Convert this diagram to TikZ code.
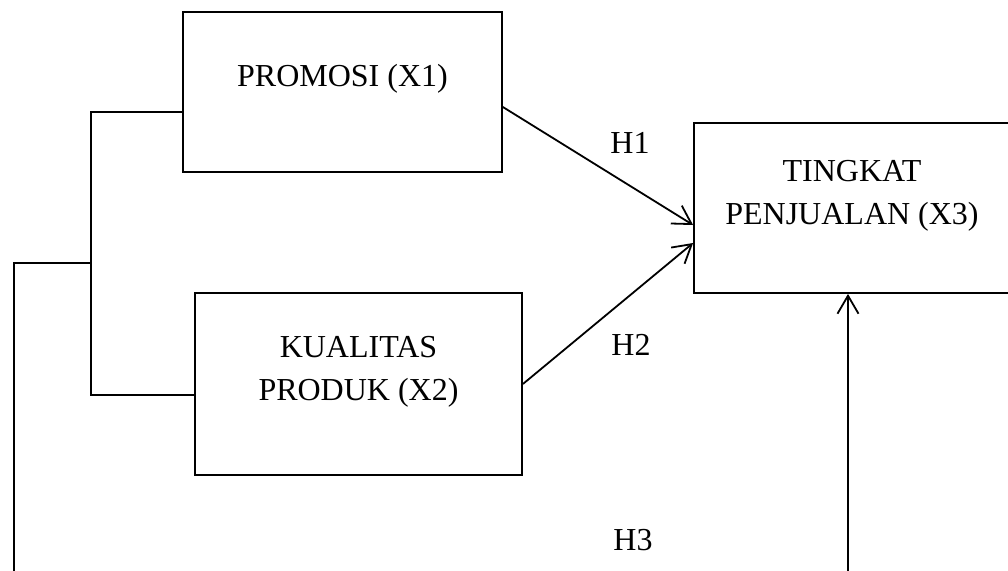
\documentclass[tikz,border=0pt]{standalone}
\usepackage{fontspec}
\setmainfont{Liberation Serif}
\usetikzlibrary{arrows.meta,calc}
\begin{document}
\begin{tikzpicture}[x=0.5pt,y=-0.5pt,
  every node/.style={font=\fontsize{16}{21.5}\selectfont},
  box/.style={draw,line width=0.9pt,rectangle,inner sep=0pt},
  lbl/.style={inner sep=0pt,align=center},
  conn/.style={line width=0.9pt},
  arr/.style={line width=0.9pt,-{Straight Barb[length=9pt,width=10.5pt,line width=0.9pt]}}]
\useasboundingbox (0,0) rectangle (1008,570);
\clip (0,0) rectangle (1008,570);
% boxes
\node[box,minimum width=159.5pt,minimum height=80pt] (p) at (342.5,92) {};
\node[box,minimum width=163.5pt,minimum height=91pt] (k) at (358.5,384) {};
\node[box,minimum width=158pt,minimum height=85pt] (t) at (852,208) {};
% box texts
\node[lbl] (pt) at (342.5,79) {PROMOSI (X1)};
\node[lbl] (kt) at (358.5,372) {KUALITAS\\PRODUK (X2)};
\node[lbl] (tt) at (852,196) {TINGKAT\\PENJUALAN (X3)};
% labels
\node[lbl] (h1) at (630,143) {H1};
\node[lbl] (h2) at (631,345) {H2};
\node[lbl] (h3) at (633,540) {H3};
% bracket
\coordinate (pj) at (91,112);
\coordinate (kj) at (91,395);
\coordinate (lj) at (91,263);
\coordinate (lc) at (14,263);
\coordinate (lb) at (14,580);
\draw[conn] (p.west |- pj) -- (pj) -- (kj) -- (k.west |- kj);
\draw[conn] (lj) -- (lc) -- (lb);
% arrows
\draw[arr] ($(p.east)+(0,15)$) -- ($(t.west)+(0,17)$);
\draw[arr] (k.east) -- ($(t.west)+(0,35)$);
\coordinate (tb) at (848,580);
\draw[arr] (tb) -- (tb |- t.south);
\end{tikzpicture}
\end{document}
